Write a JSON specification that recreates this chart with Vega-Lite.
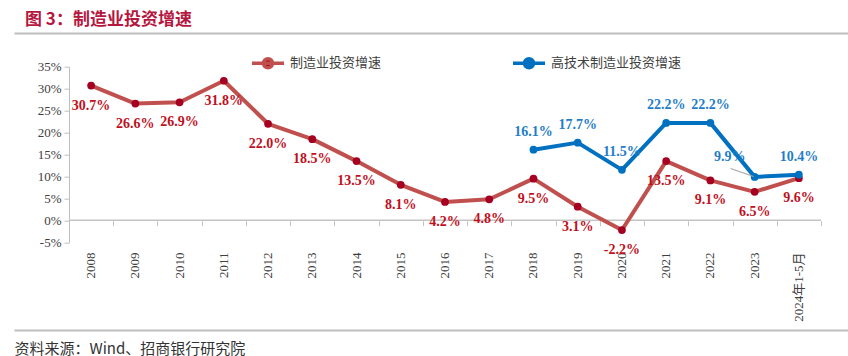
{
  "$schema": "https://vega.github.io/schema/vega-lite/v6.json",
  "width": 834,
  "height": 175.6,
  "autosize": {"type": "none"},
  "padding": {"left": 14, "top": 66.7, "right": 0, "bottom": 113.7},
  "background": "white",
  "config": {"view": {"stroke": null}, "axisY": {"labelOverlap": false}},
  "title": {
    "text": "图 3：制造业投资增速",
    "anchor": "start",
    "frame": "group",
    "font": "Noto Sans CJK SC",
    "fontSize": 17,
    "fontWeight": "bold",
    "color": "#B5173F",
    "dx": 11
  },
  "datasets": {
    "main": [
      {"period": "2008", "series": "制造业投资增速", "value": 30.7},
      {"period": "2009", "series": "制造业投资增速", "value": 26.6},
      {"period": "2010", "series": "制造业投资增速", "value": 26.9},
      {"period": "2011", "series": "制造业投资增速", "value": 31.8},
      {"period": "2012", "series": "制造业投资增速", "value": 22.0},
      {"period": "2013", "series": "制造业投资增速", "value": 18.5},
      {"period": "2014", "series": "制造业投资增速", "value": 13.5},
      {"period": "2015", "series": "制造业投资增速", "value": 8.1},
      {"period": "2016", "series": "制造业投资增速", "value": 4.2},
      {"period": "2017", "series": "制造业投资增速", "value": 4.8},
      {"period": "2018", "series": "制造业投资增速", "value": 9.5},
      {"period": "2019", "series": "制造业投资增速", "value": 3.1},
      {"period": "2020", "series": "制造业投资增速", "value": -2.2},
      {"period": "2021", "series": "制造业投资增速", "value": 13.5},
      {"period": "2022", "series": "制造业投资增速", "value": 9.1},
      {"period": "2023", "series": "制造业投资增速", "value": 6.5},
      {"period": "2024年1-5月", "series": "制造业投资增速", "value": 9.6},
      {"period": "2018", "series": "高技术制造业投资增速", "value": 16.1},
      {"period": "2019", "series": "高技术制造业投资增速", "value": 17.7},
      {"period": "2020", "series": "高技术制造业投资增速", "value": 11.5},
      {"period": "2021", "series": "高技术制造业投资增速", "value": 22.2},
      {"period": "2022", "series": "高技术制造业投资增速", "value": 22.2},
      {"period": "2023", "series": "高技术制造业投资增速", "value": 9.9},
      {"period": "2024年1-5月", "series": "高技术制造业投资增速", "value": 10.4}
    ]
  },
  "layer": [
    {
      "data": {"values": [{"a": "2008", "b": "2024年1-5月", "zero": 0}]},
      "mark": {"type": "rule", "color": "#C4C4C4", "strokeWidth": 1.5, "x2Offset": 22.1},
      "encoding": {
        "x": {"field": "a", "type": "nominal", "bandPosition": 0, "sort": null,
          "scale": {"type": "band", "domain": ["2008","2009","2010","2011","2012","2013","2014","2015","2016","2017","2018","2019","2020","2021","2022","2023","2024年1-5月"], "paddingInner": 0, "paddingOuter": 0.9269, "align": 0.6707},
          "axis": {"orient": "top", "offset": 33.7, "labels": false, "ticks": false, "grid": false, "domainColor": "#BDBDBD", "domainWidth": 2, "title": null}},
        "x2": {"field": "b"},
        "y": {"field": "zero", "type": "quantitative",
          "scale": {"domain": [-5, 35], "nice": false, "zero": false},
          "axis": {"tickCount": 9, "labelExpr": "datum.value + '%'", "offset": -55,
            "labelOverlap": false, "labelBound": false, "labelFlush": false, "labelSeparation": 0,
            "domainColor": "#BFBFBF", "tickColor": "#BFBFBF", "tickSize": 5, "labelPadding": 3, "grid": false,
            "labelFont": "Liberation Serif", "labelFontSize": 13, "labelColor": "#404040", "title": null}}
      }
    },
    {
      "data": {"name": "main"},
      "mark": {"type": "line", "strokeWidth": 4, "strokeJoin": "round"},
      "encoding": {
        "x": {"field": "period", "type": "nominal", "sort": null,
          "axis": {"orient": "bottom", "offset": 87.7, "domainColor": "#BDBDBD", "domainWidth": 2, "ticks": false, "grid": false,
            "labelAngle": -90, "labelAlign": "right", "labelBaseline": "middle", "labelPadding": -78,
            "labelFont": "Liberation Serif, Noto Sans CJK SC", "labelFontSize": 13, "labelColor": "#404040",
            "labelOverlap": false, "labelBound": false, "labelFlush": false,
            "title": "资料来源：Wind、招商银行研究院", "titleX": 0, "titleY": 18, "titleAlign": "left", "titleAnchor": "start",
            "titleAngle": 0, "titleBaseline": "middle", "titleFont": "Noto Sans CJK SC", "titleFontSize": 15,
            "titleFontWeight": "normal", "titleColor": "#333333"}},
        "y": {"field": "value", "type": "quantitative"},
        "color": {"field": "series", "type": "nominal",
          "scale": {"domain": ["制造业投资增速", "高技术制造业投资增速"], "range": ["#C0504D", "#0070C0"]},
          "legend": {"orient": "none", "legendX": 236, "legendY": -21.7, "direction": "horizontal", "columns": 2,
            "columnPadding": 124, "title": null, "padding": 0,
            "symbolType": "M-1,0H1M-0.28,0a0.28,0.28 0 1,0 0.56,0a0.28,0.28 0 1,0 -0.56,0",
            "symbolSize": 1024, "symbolStrokeWidth": 3.5,
            "labelFont": "Noto Sans CJK SC", "labelFontSize": 13, "labelColor": "#404040", "labelOffset": 4, "labelLimit": 300,
            "encode": {"symbols": {"update": {"fill": {"scale": "fill", "field": "value"}, "fillOpacity": {"value": 1}}}}}}
      }
    },
    {
      "data": {"name": "main"},
      "mark": {"type": "circle", "size": 60, "opacity": 1},
      "encoding": {
        "x": {"field": "period", "type": "nominal", "sort": null,
          "axis": {"orient": "bottom", "offset": -21.6, "domain": false, "labels": false, "ticks": true, "tickBand": "extent",
            "tickSize": 5, "tickColor": "#C4C4C4", "tickWidth": 1, "grid": false, "title": null}},
        "y": {"field": "value", "type": "quantitative"},
        "fill": {"field": "series", "type": "nominal",
          "scale": {"domain": ["制造业投资增速", "高技术制造业投资增速"], "range": ["#A50021", "#0070C0"]},
          "legend": null}
      }
    },
    {
      "data": {"name": "main"},
      "transform": [
        {"filter": "datum.series == '制造业投资增速'"},
        {"calculate": "replace(format(datum.value, '.1f'), '\u2212', '-') + '%'", "as": "label"}
      ],
      "mark": {"type": "text", "dy": 20, "font": "Liberation Serif", "fontWeight": "bold", "fontSize": 14, "color": "#C0101E"},
      "encoding": {
        "x": {"field": "period", "type": "nominal", "sort": null, "axis": null},
        "y": {"field": "value", "type": "quantitative"},
        "text": {"field": "label"}
      }
    },
    {
      "data": {"name": "main"},
      "transform": [
        {"filter": "datum.series == '高技术制造业投资增速' && datum.period != '2023'"},
        {"calculate": "format(datum.value, '.1f') + '%'", "as": "label"}
      ],
      "mark": {"type": "text", "dy": -18, "font": "Liberation Serif", "fontWeight": "bold", "fontSize": 14, "color": "#1F7DC9"},
      "encoding": {
        "x": {"field": "period", "type": "nominal", "sort": null, "axis": null},
        "y": {"field": "value", "type": "quantitative"},
        "text": {"field": "label"}
      }
    },
    {
      "data": {"name": "main"},
      "transform": [
        {"filter": "datum.series == '高技术制造业投资增速' && datum.period == '2023'"},
        {"calculate": "format(datum.value, '.1f') + '%'", "as": "label"}
      ],
      "mark": {"type": "text", "dx": -25, "dy": -20, "font": "Liberation Serif", "fontWeight": "bold", "fontSize": 14, "color": "#1F7DC9"},
      "encoding": {
        "x": {"field": "period", "type": "nominal", "sort": null, "axis": null},
        "y": {"field": "value", "type": "quantitative"},
        "text": {"field": "label"}
      }
    },
    {
      "data": {"values": [{"period": "2023", "from": 11.8, "to": 10.0}]},
      "mark": {"type": "rule", "color": "#A6A6A6", "strokeWidth": 1.2, "xOffset": -24, "x2Offset": -1},
      "encoding": {
        "x": {"field": "period", "type": "nominal", "sort": null, "axis": null},
        "x2": {"field": "period"},
        "y": {"field": "from", "type": "quantitative"},
        "y2": {"field": "to"}
      }
    }
  ],
  "resolve": {"axis": {"x": "independent"}}
}
